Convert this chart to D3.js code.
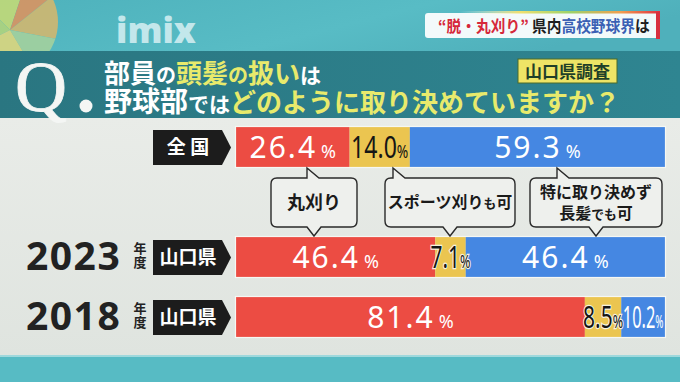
<!DOCTYPE html>
<html>
<head>
<meta charset="utf-8">
<script src="https://cdn.jsdelivr.net/npm/d3@7"></script>
<style>
  body { margin: 0; background: #e3e7e3; }
  svg { display: block; }
</style>
</head>
<body>
<div id="chart"></div>
<script>
// ---- data ----
var rowKeys = ["national", "y2023", "y2018"];
var rowTags = ["全 国", "山口県", "山口県"];
var rowYears = ["", "2023", "2018"];
var seriesNames = ["丸刈り", "スポーツ刈りも可", "特に取り決めず\n長髪でも可"];
var maruGari = [26.4, 46.4, 81.4];
var sportsGari = [14.0, 7.1, 8.5];
var noRule = [59.3, 46.4, 10.2];

var width = 680, height = 382;
var colors = ["#ec4c43", "#ebc550", "#4587e2"];
var textColors = ["#ffffff", "#151515", "#ffffff"];
var yellowText = "#e8ea6c";
var jp = "'Noto Sans CJK JP', 'Noto Sans', sans-serif";

var rows = rowKeys.map(function(k, i) {
  return { key: k, tag: rowTags[i], year: rowYears[i], 0: maruGari[i], 1: sportsGari[i], 2: noRule[i] };
});

var svg = d3.select("#chart").append("svg")
  .attr("width", width)
  .attr("height", height)
  .style("font-family", jp);

var defs = svg.append("defs");

var hdr = defs.append("linearGradient").attr("id", "hdr").attr("x1", 0).attr("x2", 1).attr("y1", 0).attr("y2", 0.3);
hdr.append("stop").attr("offset", 0).attr("stop-color", "#4eb2bc");
hdr.append("stop").attr("offset", 0.6).attr("stop-color", "#58bcc5");
hdr.append("stop").attr("offset", 1).attr("stop-color", "#4fb0bb");

var qband = defs.append("linearGradient").attr("id", "qband").attr("x1", 0).attr("x2", 1);
qband.append("stop").attr("offset", 0).attr("stop-color", "#2a7681");
qband.append("stop").attr("offset", 1).attr("stop-color", "#2f8591");

var panel = defs.append("linearGradient").attr("id", "panel").attr("x1", 0).attr("x2", 0).attr("y1", 0).attr("y2", 1);
panel.append("stop").attr("offset", 0).attr("stop-color", "#e9ece8");
panel.append("stop").attr("offset", 1).attr("stop-color", "#dfe4df");

var rainbow = defs.append("linearGradient").attr("id", "rainbow").attr("x1", 0).attr("x2", 1);
rainbow.append("stop").attr("offset", 0).attr("stop-color", "#ffffff").attr("stop-opacity", 0);
rainbow.append("stop").attr("offset", 0.3).attr("stop-color", "#f0e070");
rainbow.append("stop").attr("offset", 0.55).attr("stop-color", "#9cd36a");
rainbow.append("stop").attr("offset", 0.8).attr("stop-color", "#f0a050");
rainbow.append("stop").attr("offset", 1).attr("stop-color", "#e03040");

defs.append("clipPath").attr("id", "deco")
  .append("circle").attr("cx", 4).attr("cy", 22).attr("r", 54);

// ---- backgrounds ----
svg.append("rect").attr("width", width).attr("height", 52).attr("fill", "url(#hdr)");
svg.append("rect").attr("y", 118).attr("width", width).attr("height", 238).attr("fill", "url(#panel)");
svg.append("rect").attr("y", 356).attr("width", width).attr("height", 26).attr("fill", "#57bbc4");
svg.append("rect").attr("y", 355).attr("width", width).attr("height", 2).attr("fill", "#9fd8dc");

// low-poly decoration, top left
var decoPolys = [
  [[[-50, -30], [30, -30], [10, 30]], "#c9dc74"],
  [[[30, -30], [60, -10], [10, 30]], "#e2925c"],
  [[[60, -10], [62, 40], [10, 30]], "#d9b86c"],
  [[[-50, 60], [10, 30], [-50, -30]], "#b6d67a"],
  [[[10, 30], [62, 40], [40, 80]], "#a9d39c"],
  [[[-50, 60], [10, 30], [40, 80]], "#e4d97a"]
];
var deco = svg.append("g").attr("clip-path", "url(#deco)").attr("opacity", 0.85);
deco.selectAll("polygon").data(decoPolys).enter().append("polygon")
  .attr("points", function(d) { return d[0].join(" "); })
  .attr("fill", function(d) { return d[1]; });

svg.append("text")
  .attr("x", 116).attr("y", 43)
  .attr("font-family", "'Open Sans', Lato, sans-serif")
  .attr("font-weight", 800)
  .attr("font-size", 35)
  .attr("fill", "#c3e7eb")
  .text("imix");

// top right title box
svg.append("rect").attr("x", 425).attr("y", 13).attr("width", 234).attr("height", 25).attr("rx", 3)
  .attr("fill", "#ffffff").attr("opacity", 0.93);
svg.append("rect").attr("x", 460).attr("y", 11).attr("width", 200).attr("height", 2.5).attr("fill", "url(#rainbow)");
svg.append("rect").attr("x", 656).attr("y", 12).attr("width", 4).attr("height", 27).attr("fill", "#d8303e");
var titleG = svg.append("g").attr("transform", "translate(438,32)");
var title = titleG.append("text").attr("font-size", 16).attr("font-weight", 700);
[["“脱・丸刈り” ", "#d6283a"], ["県内", "#1e1e1e"], ["高校野球界", "#3a60b4"], ["は", "#1e1e1e"]]
  .forEach(function(p) { title.append("tspan").attr("fill", p[1]).text(p[0]); });
var titleW = title.node().getComputedTextLength();
if (titleW > 212) title.attr("transform", "scale(" + (212 / titleW) + ",1)");

// ---- question band ----
svg.append("rect").attr("y", 51).attr("width", width).attr("height", 67).attr("fill", "url(#qband)");
svg.append("text")
  .attr("x", 15).attr("y", 111)
  .attr("font-family", "'Liberation Serif', 'DejaVu Serif', serif")
  .attr("font-size", 72)
  .attr("fill", "#f4f6f4")
  .attr("stroke", "#f4f6f4").attr("stroke-width", 0.8)
  .text("Q");
svg.append("circle").attr("cx", 86).attr("cy", 106).attr("r", 6.5).attr("fill", "#f4f6f4");

// both question lines in one text element
var question = svg.append("text").attr("font-weight", 700);
[
  [83, [["部員", 26, "#fff"], ["の", 20, "#fff"], ["頭髪", 26, yellowText], ["の", 20, yellowText], ["扱い", 26, yellowText], ["は", 21, "#fff"]]],
  [112, [["野球部", 28, "#fff"], ["では", 21, "#fff"], ["どのように取り決めていますか？", 26, yellowText]]]
].forEach(function(line) {
  line[1].forEach(function(p, j) {
    var s = question.append("tspan").attr("font-size", p[1]).attr("fill", p[2]).text(p[0]);
    if (j === 0) s.attr("x", 104).attr("y", line[0]);
  });
});

svg.append("rect").attr("x", 518).attr("y", 59).attr("width", 99).attr("height", 24)
  .attr("fill", "#eee466").attr("stroke", "#4a6a2a").attr("stroke-width", 1);
svg.append("text").attr("x", 567.5).attr("y", 77.5).attr("text-anchor", "middle")
  .attr("font-size", 17).attr("font-weight", 700).attr("fill", "#1f3f28")
  .text("山口県調査");

// ---- bars ----
var x = d3.scaleLinear().domain([0, 1]).range([236, 665]);
var y = d3.scaleOrdinal().domain(rowKeys).range([127, 237, 297]);
var barH = 40;

var stack = d3.stack().keys([0, 1, 2]).offset(d3.stackOffsetExpand);
var layers = stack(rows);

// row tags and years
var rowG = svg.selectAll(".row").data(rows).enter().append("g").attr("class", "row");
rowG.append("path")
  .attr("d", function(d) {
    var t = y(d.key) + 3, b = t + barH - 5;
    return "M153," + t + "H222L231," + ((t + b) / 2) + "L222," + b + "H153Z";
  })
  .attr("fill", "#1c1c1c");
rowG.append("text")
  .attr("x", 188)
  .attr("y", function(d) { return y(d.key) + 27; })
  .attr("text-anchor", "middle")
  .attr("font-size", 19).attr("font-weight", 700).attr("fill", "#fff")
  .text(function(d) { return d.tag; });
rowG.filter(function(d) { return d.year; }).append("text")
  .attr("x", 26)
  .attr("y", function(d) { return y(d.key) + 33; })
  .attr("font-family", "'Noto Sans', Roboto, sans-serif")
  .attr("font-size", 39).attr("font-weight", 700).attr("fill", "#222")
  .attr("letter-spacing", 1.5)
  .text(function(d) { return d.year; });
// 年度 set vertically, as one text
rowG.filter(function(d) { return d.year; }).append("text")
  .attr("x", 140)
  .attr("y", function(d) { return y(d.key) + 5; })
  .style("writing-mode", "vertical-rl")
  .attr("letter-spacing", 1)
  .attr("font-size", 13).attr("font-weight", 700).attr("fill", "#222")
  .text("年度");

var layerG = svg.selectAll(".layer").data(layers).enter().append("g").attr("class", "layer")
  .attr("fill", function(d) { return colors[d.key]; });
layerG.selectAll("rect")
  .data(function(d) { return d; })
  .enter().append("rect")
  .attr("x", function(d) { return x(d[0]); })
  .attr("y", function(d) { return y(d.data.key); })
  .attr("width", function(d) { return x(d[1]) - x(d[0]); })
  .attr("height", barH);

svg.selectAll(".outline").data(rows).enter().append("rect")
  .attr("x", x(0) - 0.5)
  .attr("y", function(d) { return y(d.key) - 0.5; })
  .attr("width", x(1) - x(0) + 1)
  .attr("height", barH + 1)
  .attr("fill", "none").attr("stroke", "#f6f7f3").attr("stroke-width", 1.2);

// value labels
layers.forEach(function(layer) {
  layer.forEach(function(seg) {
    var k = layer.key;
    var v = seg.data[k];
    var w = x(seg[1]) - x(seg[0]);
    var cx = (x(seg[0]) + x(seg[1])) / 2;
    var narrow = w < 80;
    var g = svg.append("g").attr("transform", "translate(" + cx + "," + (y(seg.data.key) + 31) + ")");
    var t = g.append("text")
      .attr("font-family", "'Noto Sans', Roboto, sans-serif")
      .attr("fill", textColors[k])
      .attr("text-anchor", "middle");
    t.append("tspan").attr("font-size", 30).attr("letter-spacing", narrow ? 0 : 2).text(v.toFixed(1));
    t.append("tspan").attr("font-size", 18).attr("dx", narrow ? 0 : 4).text("%");
    var natural = t.node().getComputedTextLength();
    var fit = Math.max(w - 3, 40);
    if (natural > fit) t.attr("transform", "scale(" + (fit / natural) + ",1)");
    if (fit > w) {
      t.attr("stroke", "#f5f2e0").attr("stroke-width", 2.5).attr("paint-order", "stroke");
    }
  });
});

// ---- callouts ----
var bubbleLayout = [
  { cx: 314, w: 86, tip: 307 },
  { cx: 450, w: 130, tip: 393 },
  { cx: 596, w: 132, tip: 557 }
];
var bTop = 178, bBot = 227, rad = 6;
var topTipY = y(rowKeys[0]) + barH + 1;
var botTipY = y(rowKeys[1]) - 1;

function bubblePath(b) {
  var l = b.cx - b.w / 2, r = b.cx + b.w / 2;
  return "M" + (l + rad) + "," + bTop +
    "L" + b.tip + "," + bTop + "L" + b.tip + "," + topTipY + "L" + (b.tip + 12) + "," + bTop +
    "L" + (r - rad) + "," + bTop + "Q" + r + "," + bTop + " " + r + "," + (bTop + rad) +
    "L" + r + "," + (bBot - rad) + "Q" + r + "," + bBot + " " + (r - rad) + "," + bBot +
    "L" + (b.cx + 7) + "," + bBot + "L" + b.cx + "," + botTipY + "L" + (b.cx - 7) + "," + bBot +
    "L" + (l + rad) + "," + bBot + "Q" + l + "," + bBot + " " + l + "," + (bBot - rad) +
    "L" + l + "," + (bTop + rad) + "Q" + l + "," + bTop + " " + (l + rad) + "," + bTop + "Z";
}

var bubbles = svg.selectAll(".bubble").data(seriesNames).enter().append("g").attr("class", "bubble");
bubbles.append("path")
  .attr("d", function(d, i) { return bubblePath(bubbleLayout[i]); })
  .attr("fill", "#eef0ed").attr("stroke", "#2a2a2a").attr("stroke-width", 1.4);
bubbles.each(function(name, i) {
  var lines = name.split("\n");
  var size = i === 0 ? 18 : 16;
  var t = d3.select(this).append("text")
    .attr("text-anchor", "middle").attr("font-weight", 700).attr("fill", "#1a1a1a");
  lines.forEach(function(line, j) {
    var ty = lines.length === 1 ? (bTop + bBot) / 2 + size * 0.36 : bTop + 20 + j * 21;
    line.split("").forEach(function(c, n) {
      var s = t.append("tspan").attr("font-size", "もで".indexOf(c) >= 0 ? size * 0.8 : size).text(c);
      if (n === 0) s.attr("x", bubbleLayout[i].cx).attr("y", ty);
    });
  });
});
</script>
</body>
</html>
